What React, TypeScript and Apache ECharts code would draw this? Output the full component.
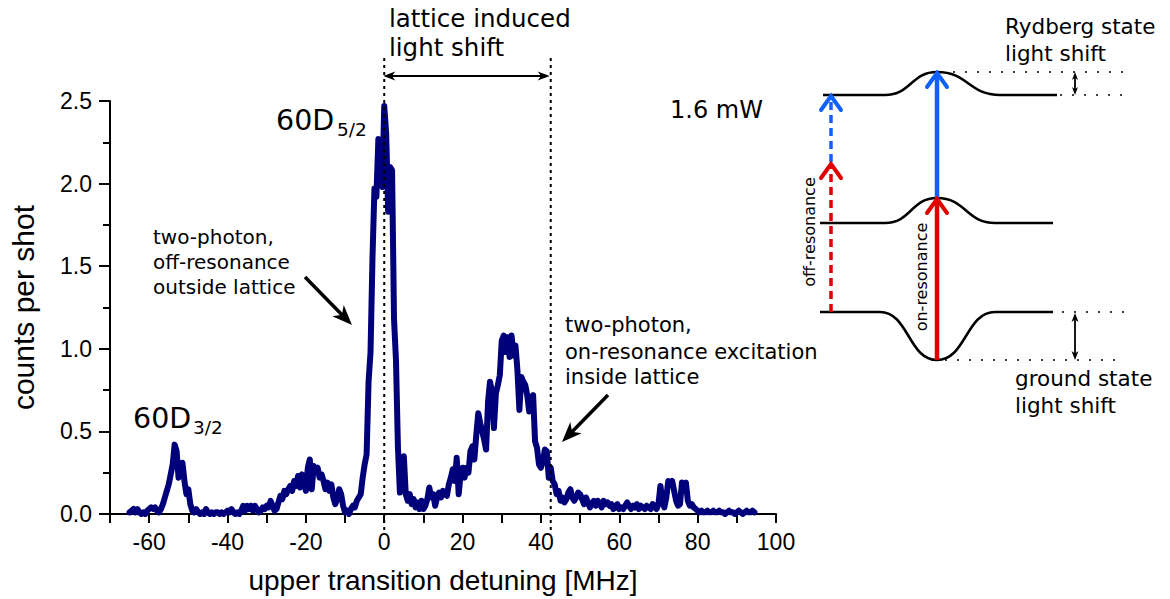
import React, { useEffect, useRef } from 'react';
import * as echarts from 'echarts';

// Detuning grid of the measured spectrum (MHz)
const DETUNING_START = -65;
const DETUNING_STEP = 0.5;

// counts per shot, one value per 0.5 MHz starting at -65 MHz
const counts = [
  0.01, 0.02, 0.03, 0.01, 0.03, 0.01, 0.00, 0.01, 0.00, 0.02, // -65
  0.03, 0.04, 0.03, 0.04, 0.02, 0.01, 0.03, 0.06, 0.10, 0.14, // -60
  0.18, 0.24, 0.30, 0.42, 0.38, 0.22, 0.26, 0.31, 0.20, 0.12, // -55
  0.15, 0.06, 0.02, 0.01, 0.03, 0.01, 0.00, 0.01, 0.00, 0.03, // -50
  0.01, 0.00, 0.01, 0.00, 0.01, 0.01, 0.00, 0.01, 0.00, 0.01, // -45
  0.02, 0.01, 0.03, 0.01, 0.00, 0.01, 0.00, 0.02, 0.05, 0.02, // -40
  0.05, 0.03, 0.05, 0.02, 0.05, 0.03, 0.01, 0.02, 0.04, 0.03, // -35
  0.05, 0.04, 0.08, 0.05, 0.02, 0.03, 0.07, 0.11, 0.09, 0.14, // -30
  0.12, 0.15, 0.17, 0.14, 0.20, 0.17, 0.23, 0.16, 0.24, 0.22, // -25
  0.14, 0.28, 0.33, 0.15, 0.29, 0.26, 0.28, 0.22, 0.24, 0.20, // -20
  0.15, 0.19, 0.14, 0.18, 0.10, 0.06, 0.09, 0.15, 0.12, 0.05, // -15
  0.01, 0.02, 0.00, 0.03, 0.05, 0.04, 0.08, 0.10, 0.12, 0.22, // -10
  0.30, 0.36, 0.80, 0.98, 1.55, 1.97, 1.92, 2.27, 2.15, 1.98, // -5
  2.47, 2.30, 1.83, 2.10, 2.08, 1.18, 0.93, 0.40, 0.13, 0.22, // 0
  0.35, 0.12, 0.08, 0.12, 0.06, 0.09, 0.04, 0.07, 0.03, 0.08, // 5
  0.03, 0.05, 0.09, 0.16, 0.10, 0.12, 0.05, 0.10, 0.13, 0.10, // 10
  0.14, 0.12, 0.11, 0.18, 0.22, 0.27, 0.20, 0.34, 0.12, 0.24, // 15
  0.28, 0.22, 0.28, 0.25, 0.38, 0.41, 0.33, 0.48, 0.61, 0.55, // 20
  0.50, 0.45, 0.39, 0.68, 0.80, 0.74, 0.52, 0.73, 0.78, 0.84, // 25
  1.05, 1.08, 0.98, 1.07, 0.95, 1.08, 0.96, 1.02, 0.87, 0.63, // 30
  0.83, 0.80, 0.78, 0.72, 0.62, 0.70, 0.72, 0.44, 0.40, 0.30, // 35
  0.28, 0.32, 0.39, 0.38, 0.22, 0.28, 0.20, 0.18, 0.12, 0.14, // 40
  0.08, 0.10, 0.07, 0.09, 0.13, 0.15, 0.10, 0.08, 0.10, 0.13, // 45
  0.12, 0.09, 0.06, 0.10, 0.07, 0.04, 0.06, 0.08, 0.05, 0.08, // 50
  0.06, 0.04, 0.08, 0.06, 0.07, 0.05, 0.06, 0.03, 0.04, 0.06, // 55
  0.03, 0.04, 0.03, 0.05, 0.07, 0.05, 0.03, 0.05, 0.04, 0.06, // 60
  0.03, 0.05, 0.04, 0.03, 0.05, 0.04, 0.03, 0.06, 0.05, 0.03, // 65
  0.06, 0.17, 0.08, 0.04, 0.10, 0.20, 0.18, 0.20, 0.14, 0.08, // 70
  0.05, 0.06, 0.19, 0.17, 0.19, 0.08, 0.05, 0.06, 0.04, 0.03, // 75
  0.02, 0.01, 0.02, 0.01, 0.01, 0.02, 0.01, 0.01, 0.02, 0.01, // 80
  0.01, 0.02, 0.01, 0.01, 0.00, 0.01, 0.02, 0.01, 0.01, 0.00, // 85
  0.01, 0.02, 0.01, 0.00, 0.01, 0.02, 0.01, 0.01, 0.02, 0.01, // 90
];

// axis ranges
const X_MIN = -70;
const X_MAX = 100;
const Y_MIN = 0;
const Y_MAX = 2.5;

// dotted markers of the lattice induced light shift (MHz)
const LIGHT_SHIFT_MARKERS = [0, 42.5];

const TEXT_FONT = 'DejaVu Sans';
const AXIS_FONT = 'Liberation Sans';
const RED = '#e00000';
const BLUE = '#1060ff';

function txt(x: number, y: number, text: string, size: number, extra: any = {}) {
  return {
    type: 'text',
    x,
    y,
    z: 120,
    rotation: extra.rotation || 0,
    style: {
      text,
      fontSize: size,
      fontFamily: TEXT_FONT,
      fill: '#000',
      align: extra.align || 'left',
      textAlign: extra.align || 'left',
      verticalAlign: 'middle',
      textVerticalAlign: 'middle',
    },
  };
}

function line(x1: number, y1: number, x2: number, y2: number, stroke: string, width: number, dash?: number[]) {
  return {
    type: 'line',
    z: 110,
    shape: { x1, y1, x2, y2 },
    style: { stroke, lineWidth: width, lineDash: dash, lineCap: 'butt' },
  };
}

function head(x1: number, y1: number, x2: number, y2: number, len: number, half: number, color: string) {
  const dx = x2 - x1;
  const dy = y2 - y1;
  const L = Math.hypot(dx, dy);
  const ux = dx / L;
  const uy = dy / L;
  const px = -uy;
  const py = ux;
  const bx = x2 - ux * len;
  const by = y2 - uy * len;
  return {
    type: 'polygon',
    z: 111,
    shape: {
      points: [
        [x2, y2],
        [bx + px * half, by + py * half],
        [x2 - ux * len * 0.72, y2 - uy * len * 0.72],
        [bx - px * half, by - py * half],
      ],
    },
    style: { fill: color },
  };
}

function arrow(x1: number, y1: number, x2: number, y2: number, len: number, half: number, width: number) {
  const L = Math.hypot(x2 - x1, y2 - y1);
  const ux = (x2 - x1) / L;
  const uy = (y2 - y1) / L;
  return [
    line(x1, y1, x2 - ux * len * 0.6, y2 - uy * len * 0.6, '#000', width),
    head(x1, y1, x2, y2, len, half, '#000'),
  ];
}

function doubleArrow(x1: number, y1: number, x2: number, y2: number, len: number, half: number, width: number) {
  const L = Math.hypot(x2 - x1, y2 - y1);
  const ux = (x2 - x1) / L;
  const uy = (y2 - y1) / L;
  return [
    line(x1 + ux * len * 0.6, y1 + uy * len * 0.6, x2 - ux * len * 0.6, y2 - uy * len * 0.6, '#000', width),
    head(x1, y1, x2, y2, len, half, '#000'),
    head(x2, y2, x1, y1, len, half, '#000'),
  ];
}

function chevronUp(x: number, y: number, color: string) {
  return {
    type: 'polyline',
    z: 112,
    shape: { points: [[x - 10, y + 15], [x, y + 1], [x + 10, y + 15]] },
    style: { stroke: color, lineWidth: 4, fill: null, lineJoin: 'miter', lineCap: 'round' },
  };
}

function level(y0: number, yPeak: number, xStart: number, xRiseStart: number, xPeak: number, xRiseEnd: number, xEnd: number) {
  const st = { stroke: '#000', lineWidth: 2.5, fill: null };
  const wl = xPeak - xRiseStart;
  const wr = xRiseEnd - xPeak;
  return [
    { type: 'line', z: 105, shape: { x1: xStart, y1: y0, x2: xRiseStart, y2: y0 }, style: st },
    {
      type: 'bezierCurve',
      z: 105,
      shape: {
        x1: xRiseStart, y1: y0,
        cpx1: xRiseStart + wl * 0.5, cpy1: y0,
        cpx2: xPeak - wl * 0.5, cpy2: yPeak,
        x2: xPeak, y2: yPeak,
      },
      style: st,
    },
    {
      type: 'bezierCurve',
      z: 105,
      shape: {
        x1: xPeak, y1: yPeak,
        cpx1: xPeak + wr * 0.5, cpy1: yPeak,
        cpx2: xRiseEnd - wr * 0.5, cpy2: y0,
        x2: xRiseEnd, y2: y0,
      },
      style: st,
    },
    { type: 'line', z: 105, shape: { x1: xRiseEnd, y1: y0, x2: xEnd, y2: y0 }, style: st },
  ];
}

export default function App() {
  const ref = useRef<HTMLDivElement>(null);

  useEffect(() => {
    const chart = echarts.init(ref.current!, null, { renderer: 'svg' });
    const data = counts.map((c, i) => [DETUNING_START + i * DETUNING_STEP, c]);

    chart.setOption({
      animation: false,
      backgroundColor: '#fff',
      grid: { left: 105, right: 394, top: 101, bottom: 76, containLabel: false },
      xAxis: {
        type: 'value',
        min: X_MIN,
        max: X_MAX,
        interval: 10,
        name: 'upper transition detuning [MHz]',
        nameLocation: 'middle',
        nameGap: 52,
        nameTextStyle: { fontFamily: AXIS_FONT, fontSize: 28, color: '#000' },
        axisLine: { onZero: false, lineStyle: { color: '#000', width: 2 } },
        axisTick: { show: true, inside: false, length: 9, lineStyle: { color: '#000', width: 2 } },
        axisLabel: {
          margin: 16,
          fontFamily: AXIS_FONT,
          fontSize: 23,
          color: '#000',
          showMinLabel: true,
          showMaxLabel: true,
          formatter: (v: number) => (v % 20 === 0 ? String(v) : ''),
        },
        splitLine: { show: false },
      },
      yAxis: {
        type: 'value',
        min: Y_MIN,
        max: Y_MAX,
        interval: 0.5,
        name: 'counts per shot',
        nameLocation: 'middle',
        nameRotate: 90,
        nameGap: 72,
        nameTextStyle: { fontFamily: AXIS_FONT, fontSize: 30, color: '#000' },
        axisLine: { show: true, onZero: false, lineStyle: { color: '#000', width: 2 } },
        axisTick: { show: true, inside: false, length: 11, lineStyle: { color: '#000', width: 2 } },
        minorTick: { show: true, splitNumber: 2, length: 7, lineStyle: { color: '#000', width: 2 } },
        axisLabel: {
          margin: 18,
          fontFamily: AXIS_FONT,
          fontSize: 23,
          color: '#000',
          formatter: (v: number) => v.toFixed(1),
        },
        splitLine: { show: false },
        minorSplitLine: { show: false },
      },
      series: [
        {
          type: 'line',
          data,
          symbol: 'none',
          z: 3,
          lineStyle: { color: '#00007a', width: 6, join: 'round', cap: 'round' },
        },
      ],
    });

    const [xa, xb] = LIGHT_SHIFT_MARKERS.map((v) => chart.convertToPixel({ xAxisIndex: 0 }, v) as number);

    const elements: any[] = [
      // lattice light shift markers
      line(xa, 58, xa, 533, '#000', 2, [3, 4]),
      line(xb, 58, xb, 533, '#000', 2, [3, 4]),
      ...doubleArrow(xa - 1, 76, xb - 1, 76, 12, 4.5, 2),
      txt(389, 18, 'lattice induced', 24.5),
      txt(389, 47, 'light shift', 24.5),
      txt(670, 110, '1.6 mW', 24),
      // peak labels
      txt(276, 120, '60D', 28.5),
      txt(337, 129, '5/2', 18.5),
      txt(133, 418, '60D', 28.5),
      txt(193, 427, '3/2', 18.5),
      // left annotation
      txt(153, 237, 'two-photon,', 20),
      txt(153, 262, 'off-resonance', 20),
      txt(153, 287, 'outside lattice', 20),
      ...arrow(305, 277, 352, 325, 20, 8, 3.5),
      // right annotation
      txt(565, 325, 'two-photon,', 21),
      txt(565, 352, 'on-resonance excitation', 21),
      txt(565, 377, 'inside lattice', 21),
      ...arrow(608, 395, 562, 442, 20, 8, 3.5),
      // level diagram
      ...level(95, 72, 823, 885, 937, 1000, 1057),
      ...level(223, 198, 820, 885, 937, 995, 1053),
      ...level(312, 360, 820, 880, 937, 995, 1053),
      line(953, 72, 1125, 72, '#000', 1.6, [2, 10]),
      line(1060, 95, 1122, 95, '#000', 1.6, [2, 10]),
      line(1062, 312, 1125, 312, '#000', 1.6, [2, 10]),
      line(945, 360, 1115, 360, '#000', 1.6, [2, 10]),
      ...doubleArrow(1075, 72, 1075, 95, 8, 3, 1.8),
      ...doubleArrow(1075, 313, 1075, 360, 9, 3.5, 1.8),
      // on-resonance arrows
      line(937, 360, 937, 201, RED, 4.5),
      chevronUp(937, 198, RED),
      line(937, 198, 937, 75, BLUE, 4.5),
      chevronUp(937, 72, BLUE),
      // off-resonance arrows
      line(831, 312, 831, 167, RED, 3.5, [8, 5]),
      chevronUp(831, 163, RED),
      line(831, 162, 831, 98, BLUE, 3.5, [8, 5]),
      chevronUp(831, 95, BLUE),
      txt(809, 232, 'off-resonance', 16, { rotation: Math.PI / 2, align: 'center' }),
      txt(921, 277, 'on-resonance', 16, { rotation: Math.PI / 2, align: 'center' }),
      txt(1005, 26, 'Rydberg state', 21.5),
      txt(1005, 53, 'light shift', 21.5),
      txt(1015, 378, 'ground state', 21.5),
      txt(1015, 405, 'light shift', 21.5),
    ];

    chart.setOption({ graphic: { elements } });

    return () => chart.dispose();
  }, []);

  return <div ref={ref} style={{ position: 'absolute', left: 0, top: 0, width: 1170, height: 599 }} />;
}
